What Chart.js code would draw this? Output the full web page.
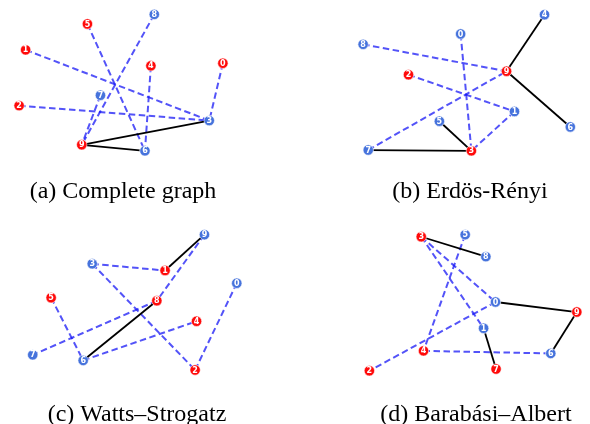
<!DOCTYPE html>
<html><head><meta charset="utf-8">
<script src="https://cdn.jsdelivr.net/npm/chart.js@4"></script>
<style>
html,body{margin:0;padding:0;background:#fff;}
#wrap{position:relative;width:590px;height:424px;overflow:hidden;}
canvas{position:absolute;}
</style></head><body>
<div id="wrap">
<canvas id="ca" width="295" height="212" style="left:0;top:0"></canvas>
<canvas id="cb" width="295" height="212" style="left:295px;top:0"></canvas>
<canvas id="cc" width="295" height="212" style="left:0;top:212px"></canvas>
<canvas id="cd" width="295" height="212" style="left:295px;top:212px"></canvas>
</div>
<script>
// ---- data: node layout positions (0-100 units), red node ids, edges ----
const nodeIds = [0,1,2,3,4,5,6,7,8,9];

const xA = [76.6, 7.0, 4.7, 71.8, 51.2, 28.8, 49.1, 33.4, 52.4, 26.8];
const yA = [63.9, 72.3, 37.3, 27.9, 62.3, 88.6, 8.9, 43.8, 94.6, 12.7];
const redA = [0,1,2,4,5,9];
const dashedA = [[1,3],[2,3],[0,3],[5,6],[4,6],[8,9],[7,9]];
const solidA = [[9,3],[9,6]];
const captionA = "(a) Complete graph";

const xB = [56.4, 75.4, 38.0, 60.2, 86.0, 48.9, 95.1, 23.8, 22.0, 72.6];
const yB = [82.3, 33.6, 56.7, 8.9, 94.4, 27.5, 23.9, 9.4, 75.8, 58.9];
const redB = [2,3,9];
const dashedB = [[8,9],[0,3],[2,1],[7,9],[1,3]];
const solidB = [[4,9],[9,6],[5,3],[7,3]];
const captionB = "(b) Erdös-Rényi";

const xC = [81.5, 56.2, 66.8, 30.5, 67.3, 16.0, 27.3, 9.5, 53.3, 70.1];
const yC = [58.9, 66.9, 4.4, 71.1, 35.0, 49.8, 10.4, 13.9, 47.9, 89.4];
const redC = [1,2,4,5,8];
const dashedC = [[3,1],[3,2],[9,8],[8,7],[5,6],[6,4],[2,0]];
const solidC = [[9,1],[8,6]];
const captionC = "(c) Watts–Strogatz";

const xD = [68.7, 64.5, 24.2, 42.5, 43.3, 58.0, 88.2, 68.9, 65.3, 97.4];
const yD = [47.1, 30.6, 3.9, 88.1, 16.4, 89.4, 14.8, 5.0, 75.6, 40.8];
const redD = [2,3,4,7,9];
const dashedD = [[3,0],[3,1],[5,4],[0,2],[4,6]];
const solidD = [[3,8],[0,9],[9,6],[1,7]];
const captionD = "(d) Barabási–Albert";

// ---- styles ----
const RED = '#ff0a0a';
const BLUE = '#4673dc';
const DASH_COLOR = 'rgba(25,25,245,0.75)';

const labelPlugin = {
  id: 'nodeLabels',
  afterDatasetsDraw(chart) {
    const ctx = chart.ctx;
    chart.data.datasets.forEach((ds, i) => {
      if (!ds.isNodes) return;
      const meta = chart.getDatasetMeta(i);
      ctx.save();
      ctx.fillStyle = '#fff';
      ctx.font = 'bold 8px "DejaVu Sans"';
      ctx.textAlign = 'center';
      ctx.textBaseline = 'middle';
      meta.data.forEach((pt, j) => {
        ctx.fillText(String(ds.ids[j]), pt.x, pt.y + 0.5);
      });
      ctx.restore();
    });
  }
};

const captionPlugin = {
  id: 'caption',
  afterDraw(chart, args, opts) {
    const ctx = chart.ctx;
    ctx.save();
    ctx.fillStyle = '#000';
    ctx.font = '24px "Liberation Serif"';
    ctx.textAlign = 'center';
    ctx.textBaseline = 'middle';
    ctx.fillText(opts.text, opts.x, opts.y);
    ctx.restore();
  }
};

function makeGraph(id, xs, ys, reds, dashed, solid, caption, capX, capY) {
  const pts = nodeIds.map(i => ({x: xs[i], y: ys[i]}));
  const datasets = [];
  dashed.forEach(([a,b]) => datasets.push({
    type: 'line', data: [pts[a], pts[b]], borderColor: DASH_COLOR, borderWidth: 2,
    borderDash: [6.5,3.5], pointRadius: 0, fill: false, order: 3, clip: false
  }));
  solid.forEach(([a,b]) => datasets.push({
    type: 'line', data: [pts[a], pts[b]], borderColor: '#000', borderWidth: 1.8,
    pointRadius: 0, fill: false, order: 2, clip: false
  }));
  datasets.push({
    type: 'scatter', isNodes: true, ids: nodeIds, data: pts,
    backgroundColor: nodeIds.map(i => reds.includes(i) ? RED : BLUE),
    borderColor: '#ffffff', borderWidth: 0.6, pointRadius: 5.2, order: 1, clip: false
  });
  new Chart(document.getElementById(id), {
    type: 'scatter',
    data: { datasets },
    options: {
      responsive: false, animation: false, events: [],
      layout: { padding: { left: 5, right: 5, top: 5, bottom: 47 } },
      scales: {
        x: { type: 'linear', min: 0, max: 100, display: false },
        y: { type: 'linear', min: 0, max: 100, display: false }
      },
      plugins: {
        legend: { display: false }, tooltip: { enabled: false },
        caption: { text: caption, x: capX, y: capY }
      }
    },
    plugins: [labelPlugin, captionPlugin]
  });
}

makeGraph('ca', xA, yA, redA, dashedA, solidA, captionA, 123, 192);
makeGraph('cb', xB, yB, redB, dashedB, solidB, captionB, 175, 192);
makeGraph('cc', xC, yC, redC, dashedC, solidC, captionC, 137, 203);
makeGraph('cd', xD, yD, redD, dashedD, solidD, captionD, 181, 203);
</script>
</body></html>
